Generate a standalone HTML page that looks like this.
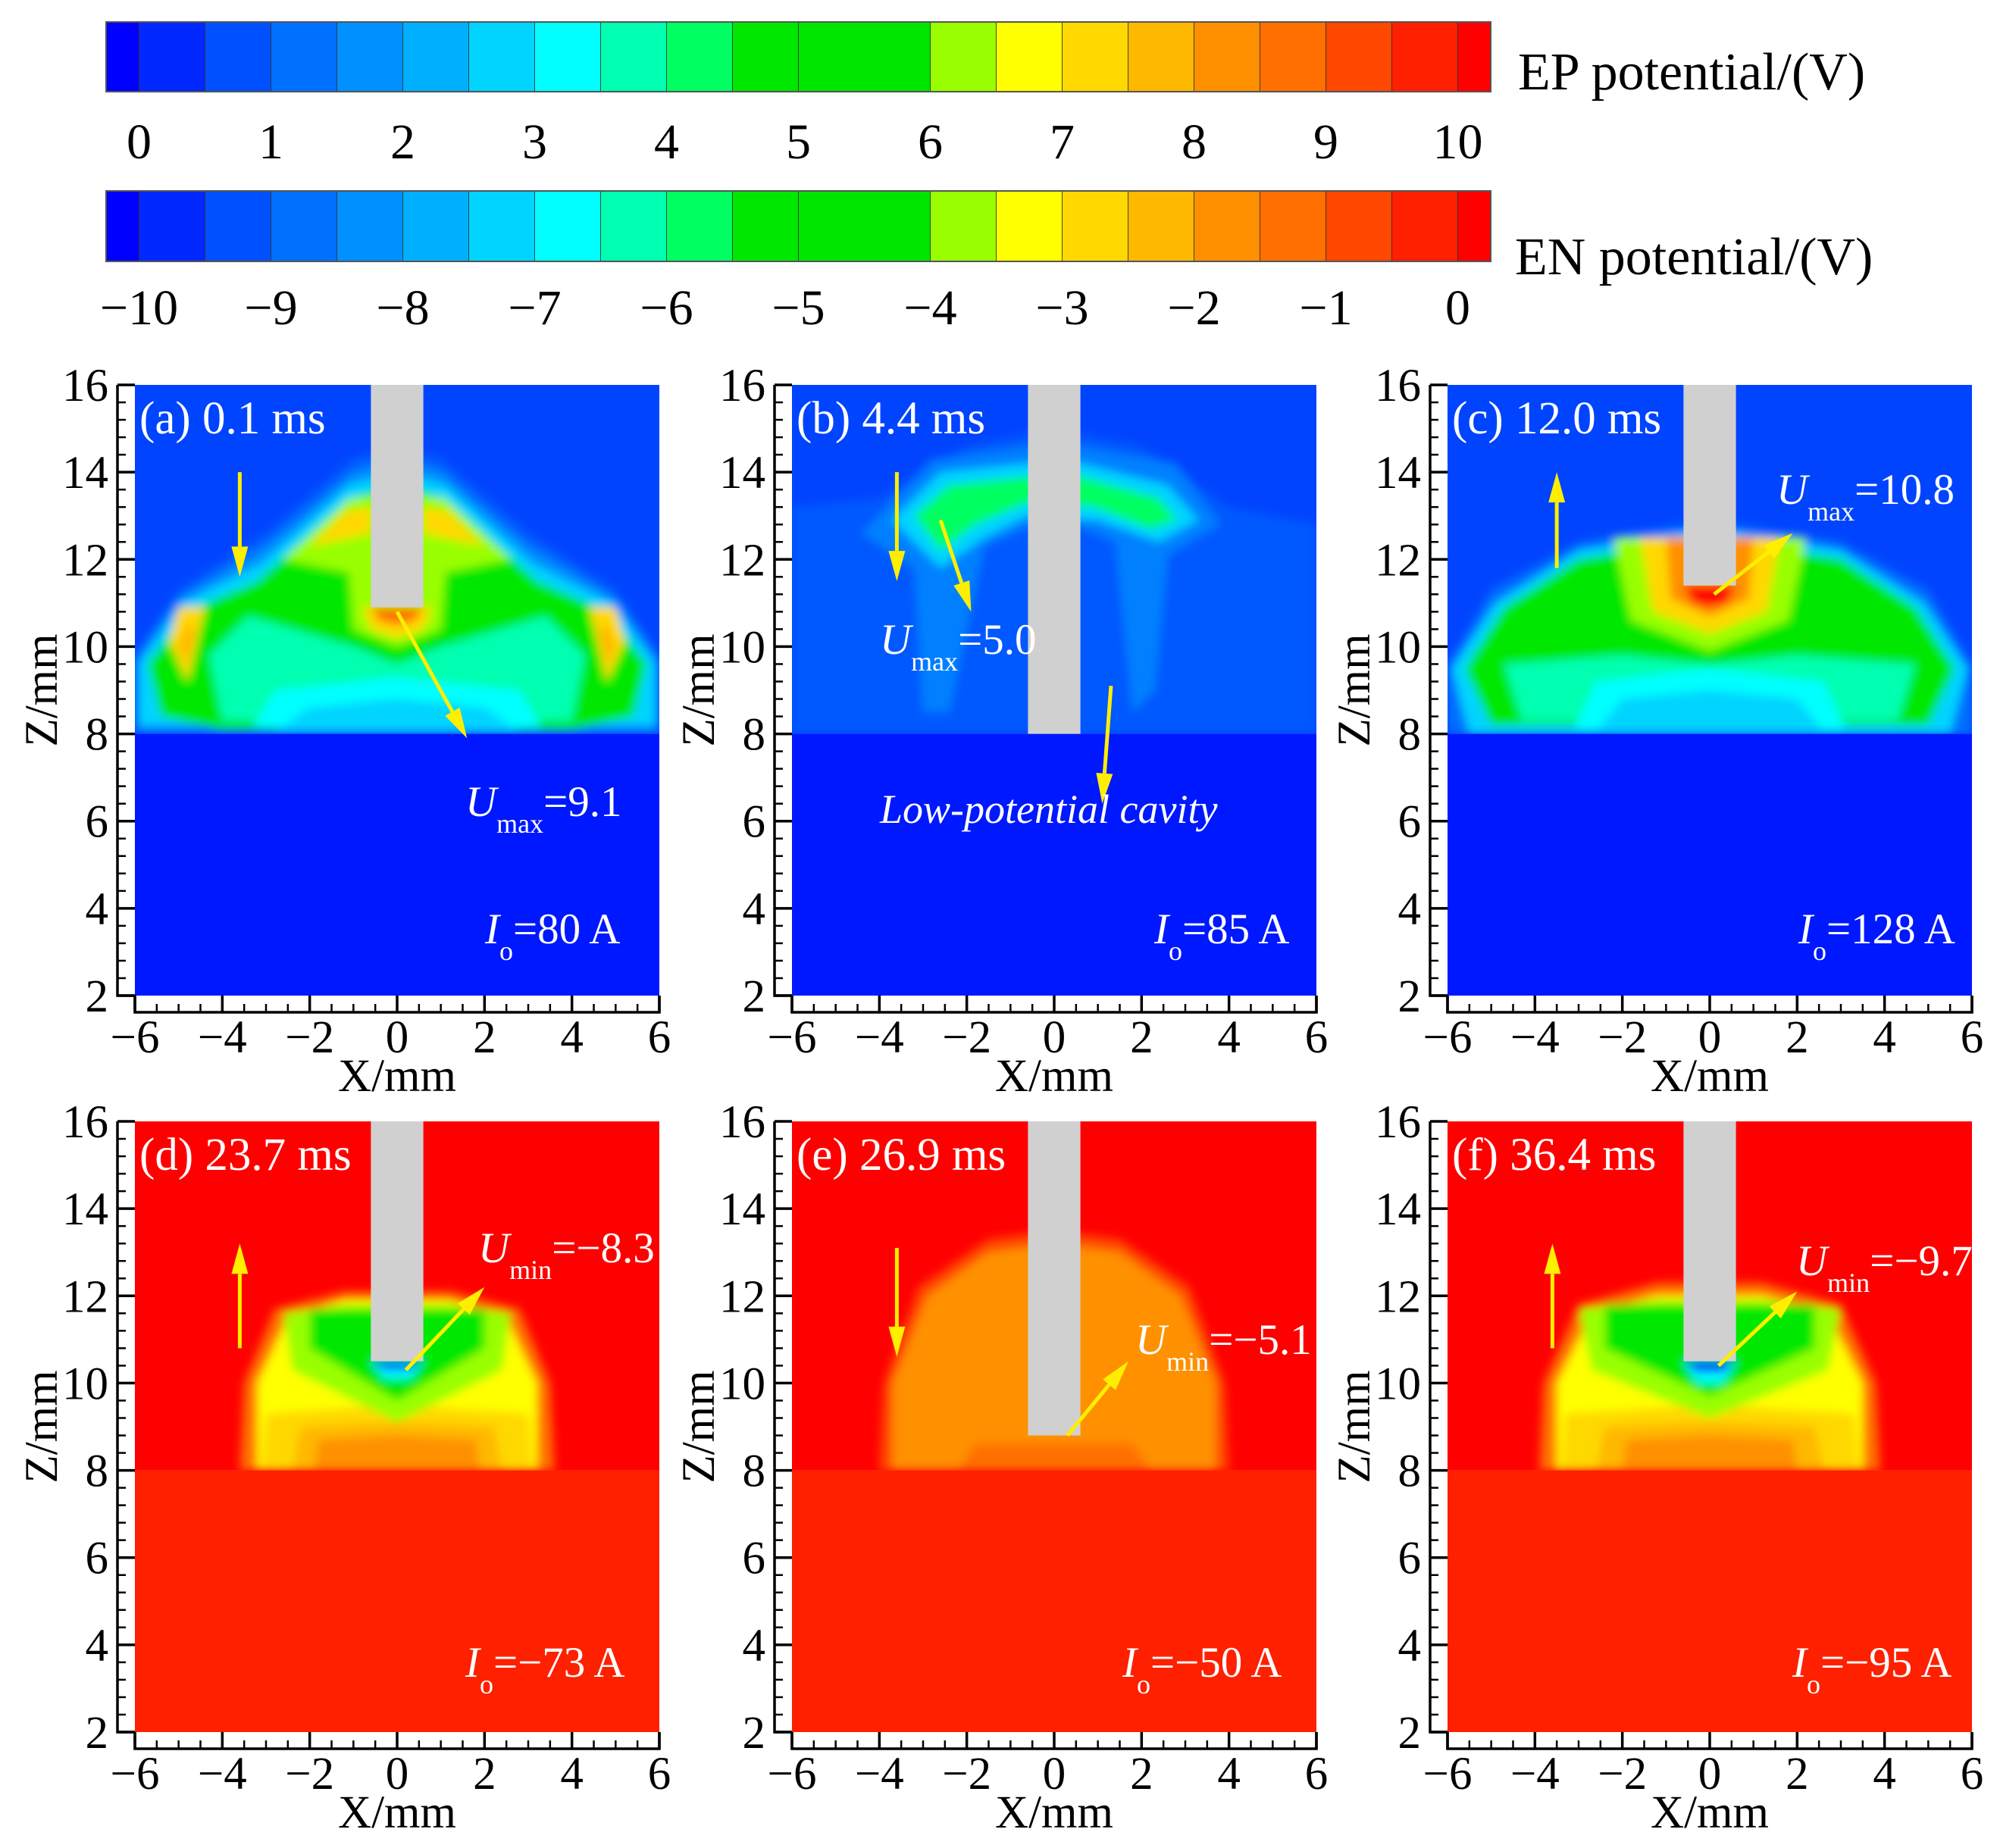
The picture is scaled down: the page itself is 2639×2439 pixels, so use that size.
<!DOCTYPE html>
<html><head><meta charset="utf-8">
<style>
html,body{margin:0;padding:0;background:#fff;}
svg{display:block;font-family:"Liberation Serif",serif;}
</style></head>
<body>
<svg id="fig" width="2639" height="2439" viewBox="0 0 2639 2439" xmlns="http://www.w3.org/2000/svg">
<defs>
<filter id="soft" x="-5%" y="-5%" width="110%" height="110%"><feGaussianBlur stdDeviation="6"/></filter>
</defs>
</svg>
<script>
// ---------- colorbar data ----------
const cbEdges = [-0.25,0,0.5,1,1.5,2,2.5,3,3.5,4,4.5,5,6,6.5,7,7.5,8,8.5,9,9.5,10,10.25];
const cbColors = ["#0000ff","#0028ff","#0050ff","#0070ff","#0090ff","#00b0ff","#00d4ff","#00ffff","#00ffb0","#00ff60","#00e800","#00e600","#99ff00","#ffff00","#ffd800","#ffb800","#ff9000","#ff7000","#ff4800","#ff2000","#ff0000"];
const epTicks = [0,1,2,3,4,5,6,7,8,9,10];
const enTickLabels = ["−10","−9","−8","−7","−6","−5","−4","−3","−2","−1","0"];
// ---------- axis data ----------
const yTicks = [2,4,6,8,10,12,14,16];
const xTicks = [-6,-4,-2,0,2,4,6];
// ---------- panel data ----------
const panelLabels = ["(a) 0.1 ms","(b) 4.4 ms","(c) 12.0 ms","(d) 23.7 ms","(e) 26.9 ms","(f) 36.4 ms"];
const electrodeTips = [10.9, 8.0, 11.4, 10.5, 8.8, 10.5];
const currents = ["=80 A","=85 A","=128 A","=−73 A","=−50 A","=−95 A"];
const extremeSub = ["max","max","max","min","min","min"];
const extremeVals = ["=9.1","=5.0","=10.8","=−8.3","=−5.1","=−9.7"];
const arrowsA = [[-3.6,14.0,-3.6,11.6],[0.0,10.8,1.6,7.9]];
const arrowsB = [[-3.6,14.0,-3.6,11.5],[-2.6,12.9,-1.9,10.8],[1.3,9.1,1.1,6.4]];
const arrowsC = [[-3.5,11.8,-3.5,14.0],[0.1,11.2,1.9,12.6]];
const arrowsD = [[-3.6,10.8,-3.6,13.2],[0.2,10.3,2.0,12.2]];
const arrowsE = [[-3.6,13.1,-3.6,10.6],[0.3,8.8,1.7,10.5]];
const arrowsF = [[-3.6,10.8,-3.6,13.2],[0.2,10.4,2.0,12.1]];

const blobsA = [
 ["#0060ff",[[-6,8],[-6,9.8],[-5,11.3],[-3,12.6],[-1,14.3],[0,14.6],[1,14.3],[3,12.6],[5,11.3],[6,9.8],[6,8]]],
 ["#0090ff",[[-6,8.1],[-6,9.7],[-5,11.1],[-3,12.3],[-1,14.0],[0,14.3],[1,14.0],[3,12.3],[5,11.1],[6,9.7],[6,8.1]]],
 ["#00d4ff",[[-5.9,8.2],[-5.9,9.6],[-4.9,11.0],[-3.1,11.9],[-1.1,13.7],[0,14.0],[1.1,13.7],[3.1,11.9],[4.9,11.0],[5.9,9.6],[5.9,8.2]]],
 ["#00e800",[[-5.4,8.4],[-5.7,9.6],[-4.8,10.8],[-3.2,11.5],[-1.2,13.3],[0,13.8],[1.2,13.3],[3.2,11.5],[4.8,10.8],[5.7,9.6],[5.4,8.4],[4,8.1],[-4,8.1]]],
 ["#00ffb0",[[-4.0,8.3],[-4.3,9.8],[-3.4,10.7],[-1.0,10.0],[0,9.6],[1.0,10.0],[3.4,10.7],[4.3,9.8],[4.0,8.3]]],
 ["#00ffff",[[-3.3,8.15],[-2.8,9.0],[0,9.3],[2.8,9.0],[3.3,8.15]]],
 ["#00d4ff",[[-2.8,8.05],[-2.0,8.6],[0,8.8],[2.0,8.6],[2.8,8.05]]],
 ["#99ff00",[[-2.6,12.0],[-1.1,13.4],[0,13.5],[1.1,13.4],[2.6,12.0],[1.1,11.7],[1.0,10.4],[0,10.0],[-1.0,10.4],[-1.1,11.7]]],
 ["#ffd800",[[-2.0,12.3],[-1.2,13.1],[-0.6,13.2],[-0.6,12.6]]],
 ["#ffd800",[[2.0,12.3],[1.2,13.1],[0.6,13.2],[0.6,12.6]]],
 ["#ffd800",[[-0.8,10.9],[-0.6,10.4],[0,10.2],[0.6,10.4],[0.8,10.9]]],
 ["#ff7000",[[-0.6,10.9],[-0.4,10.6],[0,10.5],[0.4,10.6],[0.6,10.9]]],
 ["#ffd800",[[-5.2,10.1],[-5.0,10.9],[-4.4,10.9],[-4.8,9.2]]],
 ["#ffb800",[[-5.0,10.0],[-4.8,10.5],[-4.6,10.4],[-4.8,9.6]]],
 ["#ffd800",[[5.2,10.1],[5.0,10.9],[4.4,10.9],[4.8,9.2]]],
 ["#ffb800",[[5.0,10.0],[4.8,10.5],[4.6,10.4],[4.8,9.6]]]
];
const blobsB = [
 ["#0058ff",[[-6,8],[-6,13.2],[-4,13.4],[-2,14.6],[0,15.0],[2,14.6],[4,13.2],[6,12.8],[6,8]]],
 ["#0080ff",[[-4.4,12.6],[-2.8,14.3],[-0.6,14.6],[0.6,14.6],[2.8,14.2],[3.8,12.8],[2.6,12.1],[2.3,9],[1.8,8.5],[1.4,12.4],[0,13.0],[-1.6,12.3],[-2.4,8.5],[-3.0,8.5],[-3.2,11.8]]],
 ["#00d4ff",[[-3.7,12.9],[-2.6,14.0],[-0.6,14.2],[0.6,14.2],[2.6,13.7],[3.3,12.9],[2.4,12.4],[1.0,12.9],[-0.6,13.0],[-1.6,12.5],[-2.6,11.8]]],
 ["#00ff60",[[-3.2,13.0],[-2.4,13.7],[-0.6,13.9],[0.6,13.9],[2.4,13.4],[2.8,12.9],[2.2,12.7],[0.9,13.2],[-0.6,13.3],[-1.8,12.8],[-2.6,12.2]]]
];
const blobsC = [
 ["#0070ff",[[-6,8],[-6,9.6],[-5,11.3],[-3,12.4],[0,12.9],[3,12.4],[5,11.3],[6,9.6],[6,8]]],
 ["#00d4ff",[[-5.5,8.0],[-5.9,9.5],[-4.9,11.0],[-3,12.2],[0,12.7],[3,12.2],[4.9,11.0],[5.9,9.5],[5.5,8.0]]],
 ["#00e800",[[-5.0,8.2],[-5.6,9.5],[-4.7,10.9],[-3,12.0],[0,12.5],[3,12.0],[4.7,10.9],[5.6,9.5],[5.0,8.2]]],
 ["#00ffb0",[[-4.3,8.3],[-4.7,9.6],[-2,9.8],[0,9.6],[2,9.8],[4.7,9.6],[4.3,8.3]]],
 ["#00ffff",[[-3.1,8.1],[-2.6,9.2],[0,9.5],[2.6,9.2],[3.1,8.1]]],
 ["#00d4ff",[[-2.6,8.05],[-2.0,8.8],[0,9.0],[2.0,8.8],[2.6,8.05]]],
 ["#99ff00",[[-2.2,12.5],[2.2,12.5],[1.8,10.6],[0,9.9],[-1.8,10.6]]],
 ["#ffd800",[[-1.6,12.5],[1.6,12.5],[1.3,10.8],[0,10.3],[-1.3,10.8]]],
 ["#ff9000",[[-1.0,12.5],[1.0,12.5],[0.9,11.1],[0,10.7],[-0.9,11.1]]],
 ["#ff0000",[[-0.6,11.4],[0.6,11.4],[0.4,11.0],[0,10.9],[-0.4,11.0]]]
];
const blobsD = [
 ["#ff7000",[[-3.6,8],[-3.5,10],[-2.8,11.7],[-1.2,12.1],[1.2,12.1],[2.8,11.7],[3.5,10],[3.6,8]]],
 ["#ffff00",[[-3.2,8],[-3.2,10],[-2.5,11.5],[-1.2,11.9],[1.2,11.9],[2.5,11.5],[3.2,10],[3.2,8]]],
 ["#ffd800",[[-3.1,8],[-3.0,9.3],[0,9.5],[3.0,9.3],[3.1,8]]],
 ["#ffb800",[[-2.4,8],[-2.2,9.0],[0,9.1],[2.2,9.0],[2.4,8]]],
 ["#ff9000",[[-1.9,8],[-1.8,8.7],[0,8.8],[1.8,8.7],[1.9,8]]],
 ["#99ff00",[[-2.6,11.6],[-2.4,10.3],[0,9.1],[2.4,10.3],[2.6,11.6],[1.2,11.8],[-1.2,11.8]]],
 ["#00e800",[[-2.0,11.7],[-2.0,10.8],[0,9.6],[2.0,10.8],[2.0,11.7]]],
 ["#00ffff",[[-0.6,10.5],[0.6,10.5],[0.3,10.1],[-0.3,10.1]]],
 ["#0050ff",[[-0.6,10.5],[0.6,10.5],[0.3,10.3],[-0.3,10.3]]]
];
const blobsE = [
 ["#ff4800",[[-4.0,8],[-3.9,10],[-3.1,12.2],[-1.5,13.3],[0,13.5],[1.5,13.3],[3.1,12.2],[3.9,10],[4.0,8]]],
 ["#ff9000",[[-3.7,8],[-3.7,10],[-2.9,12.0],[-1.5,13.0],[0,13.2],[1.5,13.0],[2.9,12.0],[3.7,10],[3.7,8]]],
 ["#ff7000",[[-2.2,8],[-1.8,8.6],[0,8.6],[1.8,8.6],[2.2,8]]]
];
const blobsF = [
 ["#ff7000",[[-3.9,8],[-3.8,10],[-3.0,11.8],[-1.2,12.3],[1.2,12.3],[3.0,11.8],[3.8,10],[3.9,8]]],
 ["#ffff00",[[-3.5,8],[-3.5,10],[-2.7,11.6],[-1.2,12.0],[1.2,12.0],[2.7,11.6],[3.5,10],[3.5,8]]],
 ["#ffd800",[[-3.4,8],[-3.3,9.3],[0,9.5],[3.3,9.3],[3.4,8]]],
 ["#ffb800",[[-2.6,8],[-2.4,9.0],[0,9.1],[2.4,9.0],[2.6,8]]],
 ["#ff9000",[[-2.0,8],[-1.9,8.7],[0,8.8],[1.9,8.7],[2.0,8]]],
 ["#99ff00",[[-3.0,11.7],[-2.7,10.3],[0,9.2],[2.7,10.3],[3.0,11.7],[1.2,11.9],[-1.2,11.9]]],
 ["#00e800",[[-2.4,11.8],[-2.4,10.8],[0,9.7],[2.4,10.8],[2.4,11.8]]],
 ["#00ffff",[[-0.6,10.5],[0.6,10.5],[0.3,10.0],[-0.3,10.0]]],
 ["#0028ff",[[-0.6,10.5],[0.6,10.5],[0.3,10.25],[-0.3,10.25]]]
];
const panelBlobs = [blobsA,blobsB,blobsC,blobsD,blobsE,blobsF];
const panelArrows = [arrowsA,arrowsB,arrowsC,arrowsD,arrowsE,arrowsF];

// ---------- layout ----------
const NS = "http://www.w3.org/2000/svg";
const svg = document.getElementById("fig");
const colL = [178,1045,1910], PW = 692;
const rowT = [508,1480], PH = 806;
const cbX0 = 183.5, cbUnit = 174.0;
function el(tag, attrs, parent){ const e=document.createElementNS(NS,tag); for(const k in attrs) e.setAttribute(k,attrs[k]); (parent||svg).appendChild(e); return e; }
function cbx(v){ return cbX0 + v*cbUnit; }

// ---------- colorbars ----------
function drawBar(y0,h,name){
  const g = el("g",{});
  
  
  for(let i=0;i<cbColors.length;i++){
    const r = el("rect",{x:cbx(cbEdges[i]),y:y0,width:cbx(cbEdges[i+1])-cbx(cbEdges[i]),height:h,fill:cbColors[i],stroke:"#333","stroke-width":0.8},g);
    
    
  }
  el("rect",{x:cbx(cbEdges[0]),y:y0,width:cbx(cbEdges[cbEdges.length-1])-cbx(cbEdges[0]),height:h,fill:"none",stroke:"#555","stroke-width":2},g);
}
drawBar(29,92,"ep-colorbar");
drawBar(252,93,"en-colorbar");
epTicks.forEach((v,i)=>{
  const t = el("text",{x:cbx(v),y:209,"font-size":66,"text-anchor":"middle",fill:"#000"});
  t.textContent = String(v);
  
  
  const t2 = el("text",{x:cbx(v),y:428,"font-size":66,"text-anchor":"middle",fill:"#000"});
  t2.textContent = enTickLabels[i];
  
  
}
);
{
  const t = el("text",{x:2003,y:118,"font-size":70,fill:"#000"}); t.textContent="EP potential/(V)";
  
  
  const t2 = el("text",{x:1999,y:362,"font-size":70,fill:"#000"}); t2.textContent="EN potential/(V)";
  
  
}

// ---------- panels ----------
const annoPos = [
 {u:[614,1077], io:[640,1245]},
 {u:[1161,863], io:[1523,1245]},
 {u:[2344,665], io:[2373,1245]},
 {u:[631,1666], io:[614,2213]},
 {u:[1498,1787], io:[1481,2213]},
 {u:[2370,1683], io:[2365,2213]}
];
for(let p=0;p<6;p++){
  const L = colL[p%3], T = rowT[Math.floor(p/3)];
  const sx = x => L + (x+6)/12*PW;
  const sz = z => T + (16-z)/14*PH;
  const ep = p<3;
  const g = el("g",{});
  
  
  el("clipPath",{id:"clip"+p},g);
  el("rect",{x:L,y:T,width:PW,height:PH},g.lastChild);
  const plot = el("g",{"clip-path":"url(#clip"+p+")"},g);
  const topR = el("rect",{x:L,y:sz(16),width:PW,height:sz(8)-sz(16),fill:ep?"#0044ff":"#ff0000"},plot);
  
  
  const blobG = el("g",{filter:"url(#soft)"},plot);
  panelBlobs[p].forEach(b=>{
    const pts = b[1].map(q=>sx(q[0]).toFixed(1)+","+sz(q[1]).toFixed(1)).join(" ");
    const poly = el("polygon",{points:pts,fill:b[0]},blobG);
    
    
  });
  const botR = el("rect",{x:L,y:sz(8),width:PW,height:sz(2)-sz(8),fill:ep?"#0018ff":"#ff2000"},plot);
  
  
  const elec = el("rect",{x:sx(-0.6),y:sz(16),width:sx(0.6)-sx(-0.6),height:sz(electrodeTips[p])-sz(16),fill:"#d0d0d0"},plot);
  
  
  panelArrows[p].forEach(a=>{
    const x1=sx(a[0]),y1=sz(a[1]),x2=sx(a[2]),y2=sz(a[3]);
    const dx=x2-x1,dy=y2-y1,len=Math.hypot(dx,dy),ux=dx/len,uy=dy/len;
    const hl=40,hw=11;
    const bx=x2-ux*hl,by=y2-uy*hl;
    const ag = el("g",{},plot);
    
    
    el("line",{x1:x1,y1:y1,x2:bx,y2:by,stroke:"#ffee00","stroke-width":5},ag);
    el("polygon",{points:`${x2},${y2} ${bx-uy*hw},${by+ux*hw} ${bx+uy*hw},${by-ux*hw}`,fill:"#ffee00"},ag);
  });
  const lab = el("text",{x:L+6,y:T+64,"font-size":61,fill:"#fff"},g);
  lab.textContent = panelLabels[p];
  
  
  const ap = annoPos[p];
  const ut = el("text",{x:ap.u[0],y:ap.u[1],"font-size":57,fill:"#fff"},g);
  
  
  const u1 = el("tspan",{"font-style":"italic"},ut); u1.textContent="U";
  const u2 = el("tspan",{"font-size":36,dy:22},ut); u2.textContent=extremeSub[p];
  const u3 = el("tspan",{dy:-22},ut); u3.textContent=extremeVals[p];
  const it = el("text",{x:ap.io[0],y:ap.io[1],"font-size":57,fill:"#fff"},g);
  
  
  const i1 = el("tspan",{"font-style":"italic"},it); i1.textContent="I";
  const i2 = el("tspan",{"font-size":36,dy:22},it); i2.textContent="o";
  const i3 = el("tspan",{dy:-22},it); i3.textContent=currents[p];
  if(p===1){
    const lc = el("text",{x:1161,y:1086,"font-size":54,"font-style":"italic",fill:"#fff"},g);
    lc.textContent="Low-potential cavity";
    
    
  }
  const axX = L-23, axY = T+PH+22;
  const ax = el("g",{stroke:"#000","stroke-width":3.5,fill:"none"},g);
  
  
  el("polyline",{points:`${axX},${T} ${axX},${T+PH} ${L},${T+PH}`},ax);
  el("polyline",{points:`${L},${T+PH} ${L},${axY} ${L+PW},${axY} ${L+PW},${T+PH}`},ax);
  for(let z=2; z<=16.001; z+=0.4){
    const major = Math.abs(z-Math.round(z))<0.01 && Math.round(z)%2===0;
    el("line",{x1:axX,y1:sz(z),x2:axX+(major?23:11),y2:sz(z),"stroke-width":major?3.5:2.5},ax);
  }
  for(let x=-6; x<=6.001; x+=0.5){
    const major = Math.abs(x-Math.round(x))<0.01 && Math.round(x)%2===0;
    el("line",{x1:sx(x),y1:axY,x2:sx(x),y2:axY-(major?22:11),"stroke-width":major?3.5:2.5},ax);
  }
  yTicks.forEach(v=>{
    const t = el("text",{x:axX-12,y:sz(v)+21,"font-size":61,"text-anchor":"end",fill:"#000"},g);
    t.textContent=String(v);
    
    
  });
  xTicks.forEach(v=>{
    const t = el("text",{x:sx(v),y:axY+53,"font-size":61,"text-anchor":"middle",fill:"#000"},g);
    t.textContent = v<0 ? "−"+(-v) : String(v);
    
    
  });
  const xt = el("text",{x:L+PW/2,y:axY+104,"font-size":61,"text-anchor":"middle",fill:"#000"},g);
  xt.textContent="X/mm";
  
  
  const yt = el("text",{x:0,y:0,"font-size":61,"text-anchor":"middle",fill:"#000",transform:`translate(${axX-80},${T+PH/2}) rotate(-90)`},g);
  yt.textContent="Z/mm";
  
  
}
</script>
</body></html>
